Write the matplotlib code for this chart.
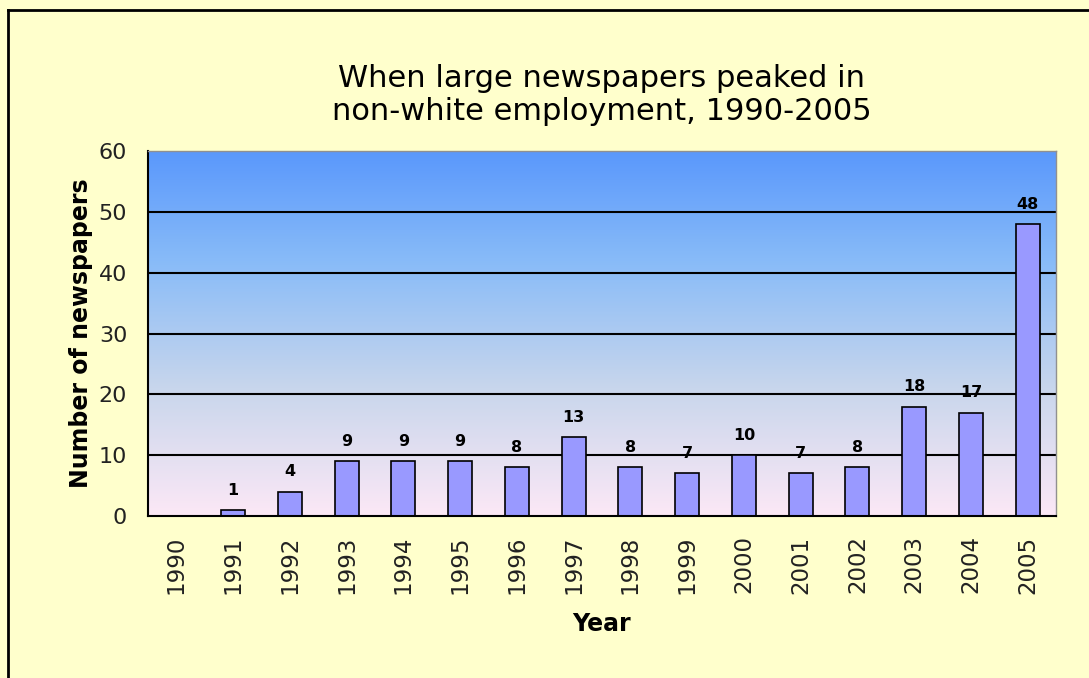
import numpy as np
import matplotlib
matplotlib.use("Agg")
import matplotlib.pyplot as plt
from matplotlib.colors import LinearSegmentedColormap

years = ["1990", "1991", "1992", "1993", "1994", "1995", "1996", "1997",
         "1998", "1999", "2000", "2001", "2002", "2003", "2004", "2005"]
counts = [0, 1, 4, 9, 9, 9, 8, 13, 8, 7, 10, 7, 8, 18, 17, 48]

W, H = 1089, 678
fig = plt.figure(figsize=(W / 100, H / 100), dpi=100, facecolor="#FFFFCC")

# outer border (left and top visible)
fig.add_artist(plt.Line2D([8 / W, 8 / W], [0, 1 - 10 / H], color="black", lw=2,
                          transform=fig.transFigure))
fig.add_artist(plt.Line2D([8 / W, 1], [1 - 10 / H, 1 - 10 / H], color="black", lw=2,
                          transform=fig.transFigure))

left, right, top, bottom = 148, 1056, 151, 516
ax = fig.add_axes([left / W, 1 - bottom / H, (right - left) / W, (bottom - top) / H])

# gradient background
cmap = LinearSegmentedColormap.from_list(
    "bg", [(0.0, "#FCE8F6"), (0.35, "#C8D6EC"), (0.7, "#88BBF8"), (1.0, "#5A98FC")])
grad = np.linspace(0, 1, 256).reshape(-1, 1)
x = np.arange(len(years))
ax.set_xlim(-0.5, len(years) - 0.5)
ax.set_ylim(0, 60)
ax.imshow(grad, aspect="auto", cmap=cmap, origin="lower",
          extent=(-0.5, len(years) - 0.5, 0, 60), zorder=0)

for yv in range(10, 60, 10):
    ax.axhline(yv, color="black", lw=1.5, zorder=1)

ax.bar(x, counts, width=0.42, color="#9999FF", edgecolor="black", linewidth=1.2, zorder=2)
for xi, c in zip(x, counts):
    if c > 0:
        ax.text(xi, c + 2.0, str(c), ha="center", va="bottom", fontsize=11.5,
                fontweight="bold", zorder=3)

for s in ["left", "bottom"]:
    ax.spines[s].set_color("black")
    ax.spines[s].set_linewidth(1.5)
for s in ["top", "right"]:
    ax.spines[s].set_color("#909090")
    ax.spines[s].set_linewidth(1)

ax.set_xticks(x)
ax.set_xticklabels(years, rotation=90, fontsize=16.5)
ax.set_yticks(range(0, 61, 10))
ax.tick_params(axis="both", length=0, labelsize=16, colors="#222222")
ax.tick_params(axis="x", labelsize=16.5, pad=14)
ax.tick_params(axis="y", pad=15)

ax.set_xlabel("Year", fontsize=17, fontweight="bold", labelpad=13)
ax.set_ylabel("Number of newspapers", fontsize=17, fontweight="bold", labelpad=4)

fig.text((left + right) / 2 / W, 1 - 95 / H,
         "When large newspapers peaked in\nnon-white employment, 1990-2005",
         ha="center", va="center", fontsize=22, linespacing=1.2)

fig.savefig("out.png", dpi=100, facecolor=fig.get_facecolor())
